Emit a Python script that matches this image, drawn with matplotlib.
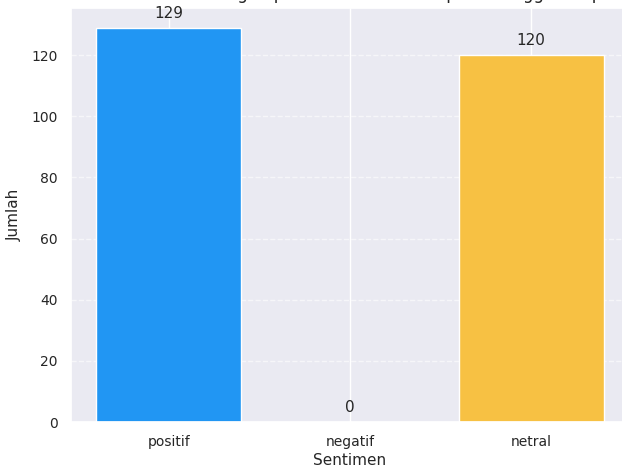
import matplotlib
matplotlib.use("Agg")
import matplotlib.pyplot as plt
import seaborn as sns

sentimen = ["positif", "negatif", "netral"]
jumlah = [129, 0, 120]
warna = ["#2196F3", "#F44336", "#F7C143"]

sns.set_theme(style="darkgrid")
plt.rcParams['font.family'] = ['DejaVu Sans']

fig = plt.figure(figsize=(6.22, 4.71), dpi=100)
# axes sengaja sedikit melewati tepi kanan (gambar asli terpotong)
ax = fig.add_axes([71 / 622, 49 / 471, 558 / 622, 414 / 471])

bars = ax.bar(sentimen, jumlah, color=warna, width=0.8)
ax.yaxis.grid(True, linestyle="--", alpha=0.6)

for b, v in zip(bars, jumlah):
    ax.annotate(str(v), (b.get_x() + b.get_width() / 2, v),
                xytext=(0, 5), textcoords="offset points",
                ha="center", va="bottom", fontsize=11)

ax.set_xlabel("Sentimen", fontsize=11, labelpad=3)
ax.set_ylabel("Jumlah", fontsize=11, labelpad=7)
ax.tick_params(labelsize=10)

# judul asli terpotong di atas gambar, hanya ekor hurufnya yang terlihat
fig.text(395 / 622, 1 + 0.5 / 471,
         "Hasil Analisis Sentimen dengan pendekatan Lexicon pada Pengguna Aplikasi Gojek Indonesia",
         ha="center", va="baseline", fontsize=12)

fig.savefig("out.png", dpi=100)
